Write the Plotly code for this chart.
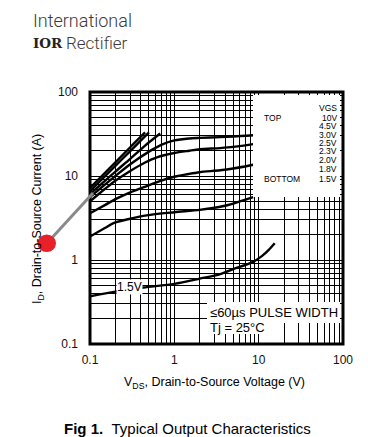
import plotly.graph_objects as go

# ---------------- data ----------------
x_tick_vals = [0.1, 1, 10, 100]
x_tick_text = ["0.1", "1", "10", "100"]
y_tick_vals = [0.1, 1, 10, 100]
y_tick_text = ["0.1", "1", "10", "100"]

vgs_labels = ["10V", "4.5V", "3.0V", "2.5V", "2.3V", "2.0V", "1.8V", "1.5V"]

vds_10v = [0.1, 0.2, 0.3, 0.45]
id_10v = [7.2, 14.5, 22.0, 33.0]

vds_45v = [0.1, 0.2, 0.3, 0.5]
id_45v = [6.6, 13.2, 19.8, 33.0]

vds_30v = [0.1, 0.2, 0.3, 0.45, 0.68]
id_30v = [6.1, 11.3, 16.0, 23.0, 32.0]

vds_25v = [0.1, 0.15, 0.2, 0.3, 0.5, 0.7, 1.0, 1.5, 2.0, 3.5, 5.0, 8.6, 10.0]
id_25v = [5.6, 7.9, 10.0, 13.8, 19.5, 23.5, 26.5, 28.0, 28.4, 29.0, 29.5, 30.5, 31.0]

vds_23v = [0.1, 0.15, 0.2, 0.3, 0.45, 0.62, 1.0, 1.5, 2.0, 3.5, 5.0, 8.6, 10.0]
id_23v = [5.0, 7.0, 8.8, 11.5, 14.5, 16.7, 18.8, 20.0, 20.8, 21.5, 22.2, 24.0, 24.8]

vds_20v = [0.1, 0.15, 0.2, 0.3, 0.47, 0.7, 1.0, 1.5, 2.0, 3.5, 5.0, 8.6, 10.0]
id_20v = [3.6, 4.5, 5.3, 6.4, 7.6, 8.8, 9.8, 10.6, 11.1, 11.7, 12.3, 13.6, 14.2]

vds_18v = [0.1, 0.15, 0.19, 0.3, 0.47, 1.0, 2.0, 3.5, 5.0, 8.6]
id_18v = [1.9, 2.4, 2.75, 3.1, 3.4, 3.7, 3.95, 4.3, 4.7, 5.6]

vds_15v = [0.1, 0.2, 0.43, 1.0, 2.0, 3.5, 5.0, 8.6, 11.0, 13.0, 15.5]
id_15v = [0.37, 0.42, 0.47, 0.52, 0.60, 0.68, 0.78, 0.95, 1.12, 1.30, 1.58]

series = [
    (vds_10v, id_10v), (vds_45v, id_45v), (vds_30v, id_30v), (vds_25v, id_25v),
    (vds_23v, id_23v), (vds_20v, id_20v), (vds_18v, id_18v), (vds_15v, id_15v),
]

# ---------------- layout geometry ----------------
W, H = 368, 437
L, R, T, B = 90, 343, 92, 344  # plot area in pixels


def px(xp, yp):
    """pixel position -> paper coordinates"""
    return (xp - L) / (R - L), (B - yp) / (B - T)


FONT = "Liberation Sans, Arial, sans-serif"

fig = go.Figure()
for (xs, ys), name in zip(series, vgs_labels):
    fig.add_trace(go.Scatter(
        x=xs, y=ys, mode="lines", name=name,
        line=dict(color="black", width=2.4, shape="spline", smoothing=0.8),
        hoverinfo="skip", showlegend=False,
    ))

grid = dict(showgrid=True, gridcolor="black", gridwidth=1.2)
fig.update_xaxes(
    type="log", range=[-1, 2], tickvals=x_tick_vals, ticktext=x_tick_text,
    ticks="", ticklabelstandoff=7, zeroline=False, showline=False,
    tickfont=dict(family=FONT, size=12, color="#111"),
    minor=dict(dtick="D1", showgrid=True, gridcolor="black", gridwidth=1.2),
    **grid,
)
fig.update_yaxes(
    type="log", range=[-1, 2], tickvals=y_tick_vals, ticktext=y_tick_text,
    ticks="", ticklabelstandoff=11, zeroline=False, showline=False,
    tickfont=dict(family=FONT, size=12, color="#111"),
    minor=dict(dtick="D1", showgrid=True, gridcolor="black", gridwidth=1.2),
    **grid,
)

shapes = []


def rect_px(x0, y0, x1, y1, **kw):
    a0, b0 = px(x0, y1)
    a1, b1 = px(x1, y0)
    d = dict(type="rect", xref="paper", yref="paper", x0=a0, y0=b0, x1=a1, y1=b1, layer="above")
    d.update(kw)
    return d


# white boxes for the legend block and the pulse-width note
shapes.append(rect_px(253, 95, 340, 197, fillcolor="white", line=dict(width=0)))
shapes.append(rect_px(207, 302, 340, 323, fillcolor="white", line=dict(width=0)))
shapes.append(rect_px(207, 323, 265, 334, fillcolor="white", line=dict(width=0)))
# frame
shapes.append(dict(type="rect", xref="paper", yref="paper", x0=0, y0=0, x1=1, y1=1,
                   line=dict(color="black", width=3), layer="above"))
# grey pointer line and red dot
gx0, gy0 = px(49, 241)
gx1, gy1 = px(93, 193)
shapes.append(dict(type="line", xref="paper", yref="paper", x0=gx0, y0=gy0, x1=gx1, y1=gy1,
                   line=dict(color="#8a8a8a", width=3), layer="above"))
cx0, cy0 = px(37.5, 252)
cx1, cy1 = px(56, 234.5)
shapes.append(dict(type="circle", xref="paper", yref="paper", x0=cx0, y0=cy0, x1=cx1, y1=cy1,
                   fillcolor="#e8202a", line=dict(width=0), layer="above"))

ann = []


def text_px(x, y, s, size, anchor="left", color="black", family=FONT, angle=0, weight=None, bg=None):
    a, b = px(x, y)
    f = dict(family=family, size=size, color=color)
    if weight:
        f["weight"] = weight
    d = dict(xref="paper", yref="paper", x=a, y=b, text=s, showarrow=False,
             xanchor=anchor, yanchor="middle", font=f, textangle=angle, borderpad=0)
    if bg:
        d["bgcolor"] = bg
    return d


# legend block text
ann.append(text_px(338, 108, "VGS", 8.5, "right"))
ann.append(text_px(263, 117.5, "TOP", 8.5, "left"))
ann.append(text_px(263, 178.5, "BOTTOM", 8.5, "left"))
legend_y = [117.5, 126.5, 134.5, 142.5, 151, 160, 168.5, 178.5]
for lab, yy in zip(vgs_labels, legend_y):
    ann.append(text_px(338, yy, lab, 8.5, "right"))

# curve label
ann.append(text_px(129, 287, "1.5V", 12, "center", bg="white"))

# notes
ann.append(text_px(209, 312.5, "\u226460\u00b5s PULSE WIDTH", 13, "left"))
ann.append(text_px(209, 327.5, "Tj = 25\u00b0C", 13, "left"))

# axis titles
ann.append(text_px(214, 383, "V<sub>DS</sub>, Drain-to-Source Voltage (V)", 12.5, "center"))
ann.append(text_px(38, 219, "I<sub>D</sub>, Drain-to-Source Current (A)", 12.5, "center", angle=-90))

# header / logo
ann.append(text_px(32, 21, "International", 18, "left", color="#3a3a3a",
                   family="Roboto, sans-serif", weight=300))
ann.append(text_px(32, 43, "IOR", 13.5, "left", color="#222",
                   family="DejaVu Serif, serif", weight=700))
ann.append(text_px(65, 43, "Rectifier", 17, "left", color="#3a3a3a",
                   family="Roboto, sans-serif", weight=300))

# caption
ann.append(text_px(63, 428, "<b>Fig 1.</b>\u00a0\u00a0Typical Output Characteristics", 15, "left"))

fig.update_layout(
    width=W, height=H,
    margin=dict(l=L, r=W - R, t=T, b=H - B, autoexpand=False),
    paper_bgcolor="white", plot_bgcolor="white",
    shapes=shapes, annotations=ann, showlegend=False,
)

fig.write_html(
    "out.html",
    config={"displayModeBar": False},
    post_script="document.body.style.margin='0px';document.body.style.overflow='hidden';",
)
